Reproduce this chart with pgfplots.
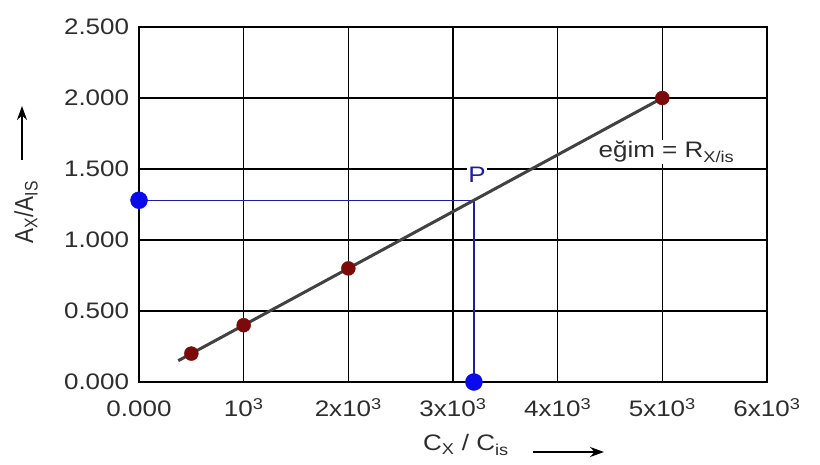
\documentclass[border=0pt]{standalone}
\usepackage{fontspec}
\setmainfont{Liberation Sans}
\usepackage{pgfplots}
\pgfplotsset{compat=1.18}
\usetikzlibrary{arrows.meta}
\definecolor{dred}{RGB}{125,10,10}
\definecolor{pblue}{RGB}{10,10,235}
\definecolor{lblue}{RGB}{30,30,160}
\definecolor{tgray}{RGB}{45,45,45}
\definecolor{lgray}{RGB}{65,65,65}
\begin{document}
\begin{tikzpicture}
\path[use as bounding box] (0,0) rectangle (820bp,465bp);
\begin{axis}[at={(139bp,83bp)}, anchor=south west, scale only axis,
  width=628bp, height=355bp,
  xmin=0, xmax=6000, ymin=0, ymax=2.5,
  xtick={0,1000,2000,3000,4000,5000,6000},
  ytick={0,0.5,1,1.5,2,2.5},
  xticklabels={0.000,10\textsuperscript{3},2x10\textsuperscript{3},3x10\textsuperscript{3},4x10\textsuperscript{3},5x10\textsuperscript{3},6x10\textsuperscript{3}},
  yticklabels={0.000,0.500,1.000,1.500,2.000,2.500},
  grid=major, major grid style={black, line width=1.5bp},
  axis line style={black, line width=1.5bp},
  major tick length=0pt,
  tick label style={font=\fontsize{22.5}{26}\selectfont, text=tgray, xscale=1.16},
  xticklabel style={anchor=base, yshift=-35bp},
  yticklabel style={xshift=-5bp},
  clip=false]
\addplot[lblue, line width=1.2bp] coordinates {(0,1.28) (3200,1.28) (3200,0)};
\addplot[lgray, line width=3bp] coordinates {(375,0.15) (5000,2.0)};
\addplot[only marks, mark=*, mark size=7bp, color=dred] coordinates {(500,0.2) (1000,0.4) (2000,0.8) (5000,2.0)};
\addplot[only marks, mark=*, mark size=8.5bp, color=pblue] coordinates {(0,1.28) (3200,0)};
\node[fill=white, text=lblue, inner sep=1.5bp, font=\fontsize{22.5}{26}\selectfont, xscale=1.16] at (axis cs:3230,1.46) {P};
\node[fill=white, text=tgray, inner sep=1bp, font=\fontsize{22.5}{26}\selectfont, xscale=1.16] at (axis cs:5040,1.62) {eğim = R\textsubscript{X/is}};
\end{axis}
\node[rotate=90, text=tgray, font=\fontsize{22.5}{26}\selectfont, yscale=1.16] at (26bp,253bp) {A\textsubscript{X}/A\textsubscript{IS}};
\draw[black, line width=1.6bp, -{Stealth[length=14bp,width=10bp]}] (22bp,305bp) -- (22bp,359bp);
\node[text=tgray, font=\fontsize{22.5}{26}\selectfont, xscale=1.16] at (466bp,20bp) {C\textsubscript{X} / C\textsubscript{is}};
\draw[black, line width=1.6bp, -{Stealth[length=14bp,width=10bp]}] (533bp,13bp) -- (604bp,13bp);
\end{tikzpicture}
\end{document}
